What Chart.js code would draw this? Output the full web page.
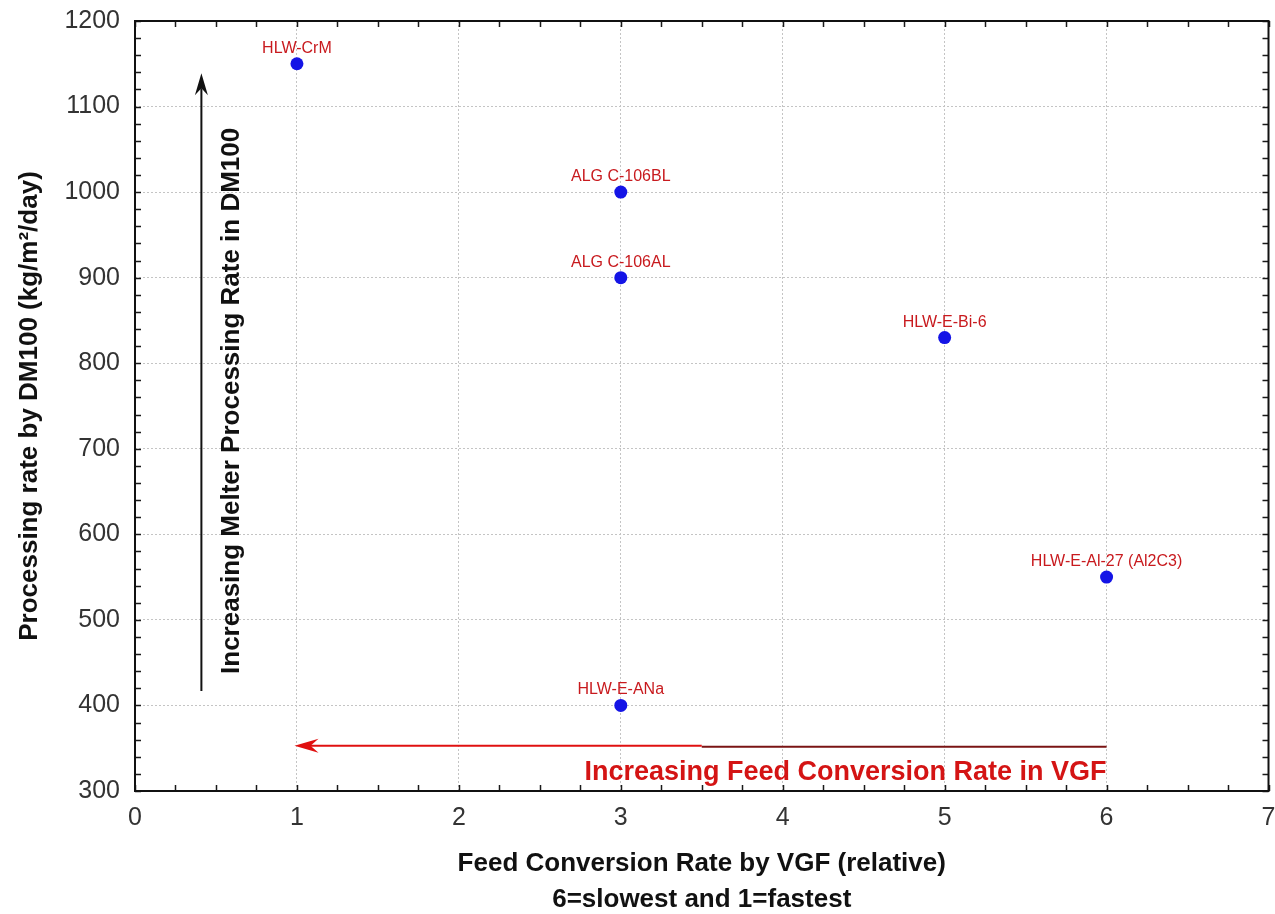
<!DOCTYPE html>
<html>
<head>
<meta charset="utf-8">
<script src="https://cdn.jsdelivr.net/npm/chart.js@4.4.1/dist/chart.umd.min.js"></script>
<style>
  html, body { margin: 0; padding: 0; background: #fff; }
  #wrap { width: 1275px; height: 914px; position: relative; }
</style>
</head>
<body>
<div id="wrap"><canvas id="rateChart"></canvas></div>
<script>
// data
const feedRank = [1, 3, 3, 5, 6, 3];
const meltRate = [1150, 1000, 900, 830, 550, 400];
const glassNames = ['HLW-CrM', 'ALG C-106BL', 'ALG C-106AL', 'HLW-E-Bi-6', 'HLW-E-Al-27 (Al2C3)', 'HLW-E-ANa'];

const xTickRange = [0, 7];
const yTickRange = [300, 1200];

// annotation arrows, in data units
const melterArrowX = 0.41;
const melterArrowY = [417, 1139];
const melterText = 'Increasing Melter Processing Rate in DM100';
const melterTextAt = [0.64, 756];

const feedArrowY = 353;
const feedArrowX = [6, 0.985];
const feedText = 'Increasing Feed Conversion Rate in VGF';
const feedTextAt = [6, 313];

const FONT = "'Liberation Sans', Arial, sans-serif";
const LABEL_RED = '#c81a1e';

function dart(ctx, tipX, tipY, dirX, dirY, len, half, notch) {
    // arrow head pointing along (dirX, dirY)
    const px = -dirY, py = dirX;
    const bx = tipX - dirX * len, by = tipY - dirY * len;
    const nx = tipX - dirX * notch, ny = tipY - dirY * notch;
    ctx.beginPath();
    ctx.moveTo(tipX, tipY);
    ctx.lineTo(bx + px * half, by + py * half);
    ctx.lineTo(nx, ny);
    ctx.lineTo(bx - px * half, by - py * half);
    ctx.closePath();
    ctx.fill();
}

const framePlugin = {
    id: 'frame',
    beforeDatasetsDraw(chart) {
        const { ctx, chartArea: a, scales: { x, y } } = chart;
        ctx.save();

        // inward minor/major ticks on all four sides
        ctx.strokeStyle = '#1a1a1a';
        ctx.lineWidth = 1.5;
        ctx.beginPath();
        for (let v = xTickRange[0]; v <= xTickRange[1] + 1e-9; v += 0.25) {
            const px = Math.round(x.getPixelForValue(v)) + 0.5;
            ctx.moveTo(px, a.bottom); ctx.lineTo(px, a.bottom - 6);
            ctx.moveTo(px, a.top); ctx.lineTo(px, a.top + 6);
        }
        for (let v = yTickRange[0]; v <= yTickRange[1] + 1e-9; v += 20) {
            const py = Math.round(y.getPixelForValue(v)) + 0.5;
            ctx.moveTo(a.left, py); ctx.lineTo(a.left + 6, py);
            ctx.moveTo(a.right, py); ctx.lineTo(a.right - 6, py);
        }
        ctx.stroke();

        ctx.lineWidth = 2;
        ctx.strokeStyle = '#111';
        ctx.strokeRect(a.left, a.top, a.right - a.left, a.bottom - a.top);

        // black vertical arrow
        const ax = x.getPixelForValue(melterArrowX);
        const ay0 = y.getPixelForValue(melterArrowY[0]);
        const ay1 = y.getPixelForValue(melterArrowY[1]);
        ctx.strokeStyle = '#111';
        ctx.fillStyle = '#111';
        ctx.lineWidth = 2;
        ctx.beginPath();
        ctx.moveTo(ax, ay0); ctx.lineTo(ax, ay1 + 15);
        ctx.stroke();
        dart(ctx, ax, ay1, 0, -1, 22, 6.5, 15);

        ctx.save();
        ctx.translate(x.getPixelForValue(melterTextAt[0]), y.getPixelForValue(melterTextAt[1]));
        ctx.rotate(-Math.PI / 2);
        ctx.font = 'bold 26px ' + FONT;
        ctx.textAlign = 'center';
        ctx.textBaseline = 'alphabetic';
        ctx.fillStyle = '#111';
        ctx.fillText(melterText, 0, 0);
        ctx.restore();

        // red horizontal arrow
        const fy = y.getPixelForValue(feedArrowY);
        const fx0 = x.getPixelForValue(feedArrowX[0]);
        const fx1 = x.getPixelForValue(feedArrowX[1]);
        const fmid = x.getPixelForValue(3.5);
        ctx.lineWidth = 2;
        ctx.strokeStyle = '#7a1414';
        ctx.beginPath();
        ctx.moveTo(fx0, fy + 1); ctx.lineTo(fmid, fy + 1);
        ctx.stroke();
        ctx.strokeStyle = '#e01010';
        ctx.beginPath();
        ctx.moveTo(fmid, fy); ctx.lineTo(fx1 + 15, fy);
        ctx.stroke();
        ctx.fillStyle = '#e01010';
        dart(ctx, fx1, fy, -1, 0, 24, 7, 16);

        ctx.font = 'bold 27px ' + FONT;
        ctx.textAlign = 'right';
        ctx.textBaseline = 'alphabetic';
        ctx.fillStyle = '#d41414';
        ctx.fillText(feedText, x.getPixelForValue(feedTextAt[0]), y.getPixelForValue(feedTextAt[1]));

        ctx.restore();
    },
    afterDatasetsDraw(chart) {
        const { ctx } = chart;
        const meta = chart.getDatasetMeta(0);
        ctx.save();
        ctx.font = '16px ' + FONT;
        ctx.textAlign = 'center';
        ctx.textBaseline = 'alphabetic';
        ctx.fillStyle = LABEL_RED;
        meta.data.forEach((pt, i) => {
            ctx.fillText(glassNames[i], pt.x, pt.y - 11);
        });
        ctx.restore();
    }
};

const points = feedRank.map((v, i) => ({ x: v, y: meltRate[i] }));

new Chart(document.getElementById('rateChart'), {
    type: 'scatter',
    data: {
        datasets: [{
            data: points,
            backgroundColor: '#1414e6',
            borderColor: '#1414e6',
            pointRadius: 6.5,
            pointHoverRadius: 6.5,
            borderWidth: 0
        }]
    },
    options: {
        responsive: true,
        maintainAspectRatio: false,
        animation: false,
        layout: { padding: { top: 21, right: 5, left: 0, bottom: 0 } },
        plugins: {
            legend: { display: false },
            tooltip: { enabled: false }
        },
        scales: {
            x: {
                type: 'linear',
                min: xTickRange[0],
                max: xTickRange[1],
                afterFit(scale) {
                    scale.height = 123;
                    scale.paddingLeft = 0;
                    scale.paddingRight = 0;
                },
                ticks: {
                    stepSize: 1,
                    padding: 12,
                    color: '#333',
                    font: { family: FONT, size: 25 }
                },
                grid: {
                    color: '#c4c4c4',
                    lineWidth: 1,
                    drawTicks: false
                },
                border: { display: false, dash: [2, 2] },
                title: {
                    display: true,
                    text: ['Feed Conversion Rate by VGF (relative)', '6=slowest and 1=fastest'],
                    color: '#111',
                    font: { family: FONT, size: 26, weight: 'bold', lineHeight: 1.38 },
                    padding: { top: 0, bottom: -4 }
                }
            },
            y: {
                type: 'linear',
                min: yTickRange[0],
                max: yTickRange[1],
                afterFit(scale) {
                    scale.width = 135;
                    scale.paddingTop = 0;
                    scale.paddingBottom = 0;
                },
                ticks: {
                    stepSize: 100,
                    padding: 15,
                    color: '#333',
                    font: { family: FONT, size: 25 },
                    callback: (v) => String(v)
                },
                grid: {
                    color: '#c4c4c4',
                    lineWidth: 1,
                    drawTicks: false
                },
                border: { display: false, dash: [2, 2] },
                title: {
                    display: true,
                    text: 'Processing rate by DM100 (kg/m\u00b2/day)',
                    color: '#111',
                    font: { family: FONT, size: 26, weight: 'bold', lineHeight: 1.2 },
                    padding: { top: 14, bottom: 0 }
                }
            }
        }
    },
    plugins: [framePlugin]
});
</script>
</body>
</html>
